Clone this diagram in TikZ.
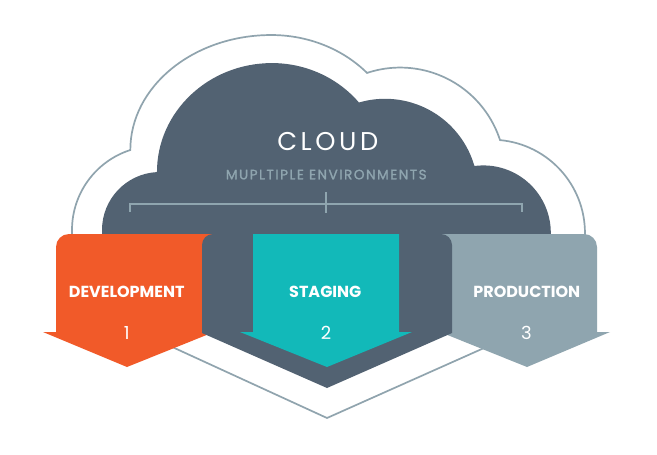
\documentclass[tikz,border=0pt]{standalone}
\usepackage{fontspec}
\setmainfont{Poppins}
\newfontfamily\cloudfont[LetterSpace=14]{Poppins}
\newfontfamily\subfont[LetterSpace=11,FakeBold=1.5]{Poppins}
\definecolor{darkc}{HTML}{526272}
\definecolor{orangec}{HTML}{F15A29}
\definecolor{tealc}{HTML}{12B9B9}
\definecolor{greyc}{HTML}{8FA5AF}
\definecolor{linec}{HTML}{90A4AE}
\begin{document}
\begin{tikzpicture}[x=1pt,y=1pt,
  outline/.style={draw=linec,line width=1.7pt,line join=miter},
  bracketline/.style={draw=greyc,line width=1.5pt},
  titletext/.style={anchor=base,inner sep=0pt,text=white,font=\cloudfont\fontsize{25.7}{26}\selectfont},
  subtext/.style={anchor=base,inner sep=0pt,text=greyc,font=\subfont\fontsize{13.6}{14}\selectfont},
  labeltext/.style={anchor=base,inner sep=0pt,text=white,font=\bfseries\fontsize{16}{17}\selectfont},
  numtext/.style={anchor=base,inner sep=0pt,text=white,font=\fontsize{18}{19}\selectfont}
]
\useasboundingbox (0,0) rectangle (657,-455);
\fill[white] (0,0) rectangle (657,-455);

% outer cloud outline
\path[outline] (72,-301) -- (72,-230)
  arc[start angle=180,end angle=107.8,radius=84pt]
  arc[start angle=180,end angle=90,x radius=141pt,y radius=115pt]
  arc[start angle=90,end angle=42.1,x radius=129pt,y radius=115pt]
  arc[start angle=108.4,end angle=18,radius=105pt]
  arc[start angle=84.8,end angle=0,radius=93.4pt]
  -- (585,-303) -- (327,-418) -- cycle;

% dark cloud body
\fill[darkc] (102,-250) -- (102,-230)
  arc[start angle=180,end angle=93,radius=58pt]
  arc[start angle=180,end angle=90,x radius=115pt,y radius=109pt]
  arc[start angle=90,end angle=39.65,x radius=113pt,y radius=109pt]
  arc[start angle=106.3,end angle=16.1,radius=93pt]
  arc[start angle=97.6,end angle=0,radius=67.5pt]
  -- (551,-250) -- cycle;

% orange arrow
\fill[orangec] (127,-367) -- (43,-332) -- (56,-332) -- (56,-300)
  [rounded corners=13pt] -- (56,-234) -- (120,-234)
  [sharp corners] -- (215,-234) -- (214,-332) -- cycle;

% production arrow
\fill[greyc] (527,-367) -- (440,-332) -- (438,-332) -- (438,-234) -- (500,-234)
  [rounded corners=13pt] -- (597,-234) -- (597,-300)
  [sharp corners] -- (597,-332) -- (610,-332) -- cycle;

% dark lower body
\fill[darkc] (327,-388) -- (202,-333) -- (202,-300)
  [rounded corners=11pt] -- (202,-234) -- (452,-234) -- (452,-300)
  [sharp corners] -- (452,-333) -- cycle;

% teal arrow
\fill[tealc] (327,-367) -- (240,-332) -- (253,-332) -- (253,-234)
  -- (399,-234) -- (399,-332) -- (412,-332) -- cycle;

% bracket
\coordinate (bl) at (130,-212);
\coordinate (br) at (522,-212);
\coordinate (bct) at (326,-192);
\coordinate (bcb) at (326,-213);
\path[bracketline] (bl) -- (130,-204) -- (522,-204) -- (br);
\path[bracketline] (bct) -- (bcb);

% texts
\node[titletext] (cloud) at (326,-150.7) {CLOUD\kern-3.6pt};
\node[subtext] (sub) at (325.5,-179.3) {MUPLTIPLE ENVIRONMENTS\kern-1.5pt};
\node[labeltext] (dev) at (126.7,-297.3) {DEVELOPMENT};
\node[labeltext] (stg) at (325.3,-297.3) {STAGING};
\node[labeltext] (prd) at (526.8,-297.3) {PRODUCTION};
\node[numtext] (n1) at (126.7,-339) {1};
\node[numtext] (n2) at (326,-339) {2};
\node[numtext] (n3) at (526.5,-339) {3};
\end{tikzpicture}
\end{document}
